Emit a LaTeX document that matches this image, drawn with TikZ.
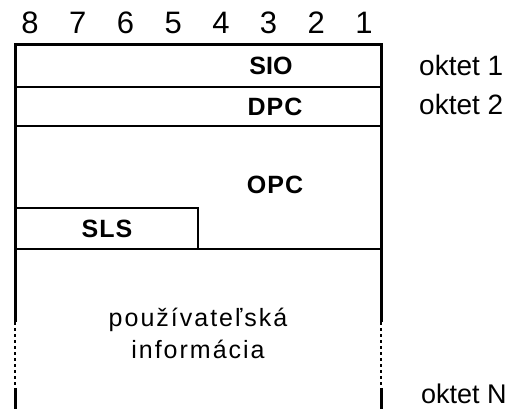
\documentclass[tikz,border=0pt]{standalone}
\usepackage{fontspec}
\setmainfont{Liberation Sans}
\usetikzlibrary{positioning}
\tikzstyle{bitnum} = [inner sep=0pt, anchor=base, font=\fontsize{31}{31}\selectfont]
\tikzstyle{field} = [inner sep=0pt, font=\bfseries\fontsize{25}{25}\selectfont\addfontfeature{LetterSpace=4}]
\tikzstyle{payload} = [inner sep=0pt, font=\fontsize{25}{25}\selectfont\addfontfeature{LetterSpace=8}]
\tikzstyle{octet} = [inner sep=0pt, anchor=west, font=\fontsize{28}{28}\selectfont]
\tikzstyle{frame} = [line width=3pt]
\tikzstyle{divider} = [line width=2pt]
\tikzstyle{gap} = [line width=2.5pt, dash pattern=on 3pt off 3pt]

\begin{document}
\begin{tikzpicture}[x=1pt, y=-1pt]
		\useasboundingbox (0,0) rectangle (524,409);
		\foreach \b in {1,...,8}
			\node (bit\b) [bitnum] at ({364-(\b-1)*47.7},34) {\b};

		\draw [frame] (15,322) -- (15,45) -- (381,45) -- (381,322);
		\draw [gap] (15,322) -- (15,388);
		\draw [gap] (381,322) -- (381,388);
		\draw [frame] (15,388) -- (15,409);
		\draw [frame] (381,388) -- (381,409);
		\draw [divider] (15,87) -- (381,87);
		\draw [divider] (15,126) -- (381,126);
		\draw [divider] (15,249) -- (381,249);
		\draw [divider] (15,208) -- (198,208) -- (198,249);

		\node (sio) [field, font=\bfseries\fontsize{25}{25}\selectfont] at (271,66) {SIO};
		\node (dpc) [field] at (275,107) {DPC};
		\node (opc) [field] at (275,185) {OPC};
		\node (sls) [field] at (107,229) {SLS};
		\node (user) [payload] at (198,320) {používateľská};
		\node (info) [payload] at (198,349) {informácia};

		\node (oct1) [octet] at (419,65) {oktet 1};
		\node (oct2) [octet] at (419,104) {oktet 2};
		\node (octN) [octet, font=\fontsize{27}{27}\selectfont] at (421,394) {oktet N};
	  \end{tikzpicture}
\end{document}
